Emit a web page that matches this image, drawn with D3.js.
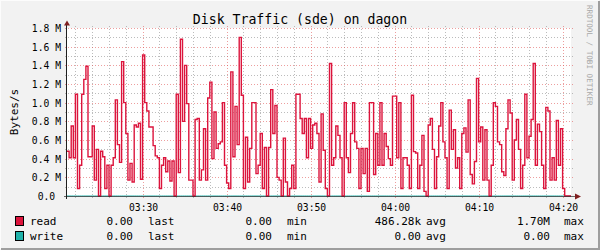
<!DOCTYPE html>
<html>
<head>
<meta charset="utf-8">
<script src="https://cdn.jsdelivr.net/npm/d3@7"></script>
<style>
  body { margin: 0; background: #f2f2f2; }
  text { font-family: "DejaVu Sans Mono", monospace; white-space: pre; }
</style>
</head>
<body>
<div id="chart"></div>
<script>
// read rate in MB/s, one sample every 15 s from 03:21:00
var readMB = [
  0.48,0.41,0.75,0.41,1.09,0.08,0.33,1.09,1.25,1.39,
  0.42,0.42,0.75,0.17,0.50,0.00,0.48,0.42,0.08,0.33,
  0.00,0.33,0.41,1.03,0.55,0.36,1.44,1.00,0.67,0.17,
  0.35,0.15,0.76,0.74,0.78,0.18,1.51,1.00,0.91,0.74,
  0.74,0.54,0.43,0.41,0.08,0.33,0.41,0.26,0.375,0.16,
  0.375,0.00,1.09,0.25,1.68,0.80,1.40,0.99,0.17,0.17,
  0.00,0.82,0.83,0.17,0.28,0.72,0.17,1.05,1.22,0.40,
  0.90,0.51,0.56,0.58,1.00,0.33,0.14,0.08,1.33,0.42,
  0.96,0.55,1.70,1.08,0.08,0.63,0.15,0.51,1.00,1.00,
  0.24,0.33,0.67,0.08,0.52,0.00,0.52,1.14,0.67,0.97,
  0.20,0.17,0.00,0.62,0.15,0.00,0.08,0.33,0.08,1.09,
  1.09,0.83,0.67,0.83,0.41,0.83,0.51,0.76,0.78,0.67,
  0.15,0.88,0.49,0.08,0.00,1.42,0.33,0.41,0.75,0.65,
  0.41,0.00,1.00,0.41,0.25,0.67,1.00,0.58,0.51,0.08,
  0.51,0.24,0.51,0.05,1.00,1.00,0.23,0.67,0.33,1.00,
  0.33,0.67,0.53,0.40,0.33,1.07,1.07,0.41,1.00,0.08,
  0.41,0.41,0.33,0.08,1.08,0.475,0.46,0.08,0.33,0.65,
  0.05,0.00,0.76,0.83,0.50,0.08,0.42,0.75,1.00,0.58,
  0.41,0.08,0.92,0.50,0.71,0.30,0.41,0.08,0.67,0.73,
  0.47,1.03,0.23,0.13,0.37,1.26,0.58,0.74,0.17,0.71,
  0.17,0.00,0.33,1.00,0.96,0.58,0.55,0.26,0.22,0.72,
  1.03,0.89,0.17,0.60,0.82,0.50,0.08,0.33,1.09,0.41,
  0.64,0.82,1.42,0.33,0.77,0.69,0.33,0.08,0.95,0.91,
  0.17,0.41,0.17,0.81,0.33,0.72,0.08,0.00,0.00,0.00
];
// write was idle the whole hour
var writeMB = readMB.map(function() { return 0; });

var stepSec = 15;
var startTime = new Date(2024, 0, 1, 3, 21, 0);

var seriesNames = ["read", "write"];
var seriesColors = ["#dc143c", "#20b2aa"];
var lastLabels = ["0.00", "0.00"];
var minLabels = ["0.00", "0.00"];
var avgLabels = ["486.28k", "0.00"];
var maxLabels = ["1.70M", "0.00"];

var yTickValues = [0, 0.2, 0.4, 0.6, 0.8, 1.0, 1.2, 1.4, 1.6, 1.8];
var yTickLabels = ["0.0 ", "0.2 M", "0.4 M", "0.6 M", "0.8 M", "1.0 M", "1.2 M", "1.4 M", "1.6 M", "1.8 M"];

var W = 600, H = 250;
var svg = d3.select("#chart").append("svg")
    .attr("width", W)
    .attr("height", H);

svg.append("rect").attr("width", W).attr("height", H).attr("fill", "#f2f2f2");
// 3d-ish frame
svg.append("path").attr("d", "M0,249V0H599").attr("fill", "none").attr("stroke", "#fcfcfc").attr("stroke-width", 2);
svg.append("path").attr("d", "M1,249H599V1").attr("fill", "none").attr("stroke", "#9e9e9e").attr("stroke-width", 2);

var endTime = new Date(startTime.getTime() + readMB.length * stepSec * 1000);
var x = d3.scaleTime().domain([startTime, endTime]).range([67, 571]);
var y = d3.scaleLinear().domain([0, 1.8]).range([196.5, 28.5]);

svg.append("rect")
    .attr("x", 67).attr("y", 28)
    .attr("width", 504).attr("height", 168)
    .attr("fill", "#ffffff");

// grid
var minorY = d3.range(0, 19).map(function(i) { return i / 10; }).filter(function(v, i) { return i % 2 == 1; });
svg.selectAll(".ygrid-minor").data(minorY).enter().append("line")
    .attr("x1", 65).attr("x2", 574)
    .attr("y1", function(d) { return Math.round(y(d) - 0.5) + 0.5; })
    .attr("y2", function(d) { return Math.round(y(d) - 0.5) + 0.5; })
    .attr("stroke", "rgba(143,143,143,0.6)")
    .attr("stroke-dasharray", "1,2");

var minorX = d3.timeMinute.every(2).range(startTime, endTime).filter(function(t) { return t.getMinutes() % 10 != 0; });
svg.selectAll(".xgrid-minor").data(minorX).enter().append("line")
    .attr("y1", 26).attr("y2", 198)
    .attr("x1", function(d) { return Math.round(x(d)) + 0.5; })
    .attr("x2", function(d) { return Math.round(x(d)) + 0.5; })
    .attr("stroke", "rgba(143,143,143,0.6)")
    .attr("stroke-dasharray", "1,2");

svg.selectAll(".ygrid-major").data(yTickValues.slice(1)).enter().append("line")
    .attr("x1", 65).attr("x2", 574)
    .attr("y1", function(d) { return Math.round(y(d) - 0.5) + 0.5; })
    .attr("y2", function(d) { return Math.round(y(d) - 0.5) + 0.5; })
    .attr("stroke", "rgba(222,79,79,0.55)")
    .attr("stroke-dasharray", "1,2");

var majorX = d3.timeMinute.every(10).range(startTime, endTime);
svg.selectAll(".xgrid-major").data(majorX).enter().append("line")
    .attr("y1", 26).attr("y2", 198)
    .attr("x1", function(d) { return Math.round(x(d)) + 0.5; })
    .attr("x2", function(d) { return Math.round(x(d)) + 0.5; })
    .attr("stroke", "rgba(222,79,79,0.55)")
    .attr("stroke-dasharray", "1,2");

// series as steps
function points(vals) {
    var pts = vals.map(function(v, i) {
        return [new Date(startTime.getTime() + i * stepSec * 1000), v];
    });
    pts.push([endTime, vals[vals.length - 1]]);
    return pts;
}
var line = d3.line()
    .x(function(d) { return x(d[0]); })
    .y(function(d) { return y(d[1]) - 0.5; })
    .curve(d3.curveStepAfter);

svg.append("path")
    .datum(points(writeMB))
    .attr("d", line)
    .attr("fill", "none")
    .attr("stroke", seriesColors[1])
    .attr("stroke-width", 1);

svg.append("path")
    .datum(points(readMB))
    .attr("d", line)
    .attr("fill", "none")
    .attr("stroke", seriesColors[0])
    .attr("stroke-width", 1.4);

// axes
svg.append("line").attr("x1", 64).attr("x2", 576).attr("y1", 196.5).attr("y2", 196.5)
    .attr("stroke", "rgba(31,31,31,0.65)");
svg.append("line").attr("x1", 66.5).attr("x2", 66.5).attr("y1", 199).attr("y2", 24)
    .attr("stroke", "#1f1f1f");
svg.append("path").attr("d", "M64,25.5L67,20.5L70,25.5Z").attr("fill", "#801f1f");
svg.append("path").attr("d", "M575,193.5L581,196.5L575,199.5Z").attr("fill", "#801f1f");

// tick labels
svg.selectAll(".ylab").data(yTickValues).enter().append("text")
    .attr("x", 61)
    .attr("y", function(d) { return y(d); })
    .attr("dy", "0.35em")
    .attr("text-anchor", "end")
    .attr("font-size", "9.7px")
    .attr("fill", "#000")
    .text(function(d, i) { return yTickLabels[i]; });

svg.selectAll(".xlab").data(majorX).enter().append("text")
    .attr("x", function(d) { return x(d) + 1; })
    .attr("y", 208)
    .attr("dy", "0.35em")
    .attr("text-anchor", "middle")
    .attr("font-size", "9.7px")
    .text(d3.timeFormat("%H:%M"));

// titles
svg.append("text")
    .attr("x", 300).attr("y", 19)
    .attr("dy", "0.35em")
    .attr("text-anchor", "middle")
    .attr("font-size", "13.2px")
    .text("Disk Traffic (sde) on dagon");

svg.append("text")
    .attr("transform", "translate(14,112) rotate(-90)")
    .attr("dy", "0.35em")
    .attr("text-anchor", "middle")
    .attr("font-size", "11px")
    .text("Bytes/s");

svg.append("text")
    .attr("transform", "translate(590,5) rotate(90)")
    .attr("dy", "0.35em")
    .attr("font-size", "7.6px")
    .attr("fill", "#a8a8a8")
    .text("RRDTOOL / TOBI OETIKER");

// legend
var leg = svg.selectAll(".leg").data(seriesNames).enter().append("g")
    .attr("transform", function(d, i) { return "translate(0," + (221 + i * 15) + ")"; });

leg.append("rect")
    .attr("x", 15.5).attr("y", -4.5)
    .attr("width", 8).attr("height", 9)
    .attr("fill", function(d, i) { return seriesColors[i]; })
    .attr("stroke", "#000");

function legText(xp, anchor, fn) {
    leg.append("text")
        .attr("x", xp)
        .attr("dy", "0.35em")
        .attr("text-anchor", anchor)
        .attr("font-size", "11px")
        .text(fn);
}
legText(30, "start", function(d) { return d; });
legText(133, "end", function(d, i) { return lastLabels[i]; });
legText(148, "start", function() { return "last"; });
legText(272, "end", function(d, i) { return minLabels[i]; });
legText(287, "start", function() { return "min"; });
legText(421, "end", function(d, i) { return avgLabels[i]; });
legText(426, "start", function() { return "avg"; });
legText(550, "end", function(d, i) { return maxLabels[i]; });
legText(564, "start", function() { return "max"; });
</script>
</body>
</html>
